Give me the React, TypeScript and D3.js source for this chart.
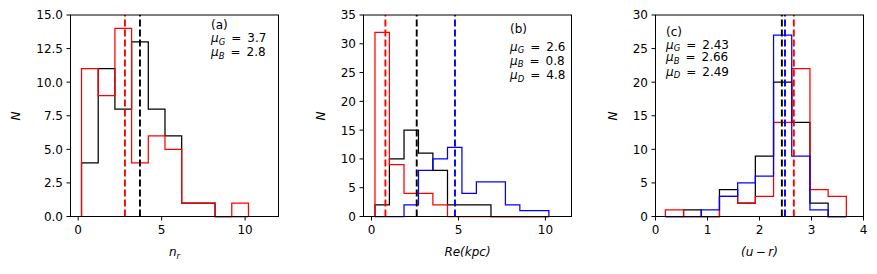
import { useEffect, useRef } from 'react';
import * as d3 from 'd3';

// --- Panel (a): Sersic index n_r ---
const edgesA = [0.2, 1.2, 2.2, 3.2, 4.2, 5.2, 6.2, 7.2, 8.2, 9.2, 10.2];
const countsA_G = [4, 11, 8, 13, 8, 6, 1, 1, 0, 0];
const countsA_B = [11, 9, 14, 4, 6, 5, 1, 1, 0, 1];
const yTicksA = [0, 2.5, 5, 7.5, 10, 12.5, 15];
const xTicksA = [0, 5, 10];

// --- Panel (b): effective radius ---
const edgesB = [0.2, 1.03, 1.87, 2.7, 3.53, 4.37, 5.2, 6.03, 6.87, 7.7, 8.53, 9.37, 10.2];
const countsB_G = [2, 10, 15, 11, 8, 2, 2, 2, 0, 0, 0, 0];
const countsB_B = [32, 9, 4, 4, 2, 0, 0, 0, 0, 0, 0, 0];
const countsB_D = [0, 0, 2, 8, 10, 12, 4, 6, 6, 2, 1, 1];
const yTicksB = [0, 5, 10, 15, 20, 25, 30, 35];
const xTicksB = [0, 5, 10];

// --- Panel (c): colour u-r ---
const edgesC = [0.19, 0.54, 0.88, 1.23, 1.58, 1.92, 2.27, 2.62, 2.97, 3.32, 3.67];
const countsC_G = [0, 1, 0, 4, 2, 9, 20, 14, 2, 0];
const countsC_B = [1, 0, 0, 3, 2, 3, 14, 22, 4, 3];
const countsC_D = [0, 0, 1, 3, 5, 6, 27, 9, 1, 0];
const yTicksC = [0, 5, 10, 15, 20, 25, 30];
const xTicksC = [0, 1, 2, 3, 4];

const FONT = 'DejaVu Sans';

type Hist = { counts: number[]; color: string };
type Mean = { value: number; color: string; label: string; text: string };

interface PanelSpec {
  left: number;
  xDomain: [number, number];
  yDomain: [number, number];
  xTicks: number[];
  yTicks: number[];
  yFmt: (d: number) => string;
  edges: number[];
  hists: Hist[];
  means: Mean[];
  tag: string;
  noteX: number;
  noteY: number[];
  xlabel: [string, string, boolean][]; // text, style, subscript
  ylabelX: number;
}

const panels: PanelSpec[] = [
  {
    left: 70.5,
    xDomain: [-0.46, 12],
    yDomain: [0, 15],
    xTicks: xTicksA,
    yTicks: yTicksA,
    yFmt: (d) => d.toFixed(1),
    edges: edgesA,
    hists: [
      { counts: countsA_G, color: '#000000' },
      { counts: countsA_B, color: '#ff0000' },
    ],
    means: [
      { value: 2.8, color: '#ff0000', label: 'B', text: '2.8' },
      { value: 3.7, color: '#000000', label: 'G', text: '3.7' },
    ],
    tag: '(a)',
    noteX: 211,
    noteY: [28.5, 42, 56],
    xlabel: [['n', 'italic', false], ['r', 'italic', true]],
    ylabelX: 16,
  },
  {
    left: 363.5,
    xDomain: [-0.46, 11.5],
    yDomain: [0, 35],
    xTicks: xTicksB,
    yTicks: yTicksB,
    yFmt: (d) => String(d),
    edges: edgesB,
    hists: [
      { counts: countsB_G, color: '#000000' },
      { counts: countsB_B, color: '#ff0000' },
      { counts: countsB_D, color: '#0000ff' },
    ],
    means: [
      { value: 0.8, color: '#ff0000', label: 'B', text: '0.8' },
      { value: 2.6, color: '#000000', label: 'G', text: '2.6' },
      { value: 4.8, color: '#0000ff', label: 'D', text: '4.8' },
    ],
    tag: '(b)',
    noteX: 510,
    noteY: [33, 50.5, 64.5, 79],
    xlabel: [['Re(kpc)', 'italic', false]],
    ylabelX: 321,
  },
  {
    left: 655.5,
    xDomain: [0, 4],
    yDomain: [0, 30],
    xTicks: xTicksC,
    yTicks: yTicksC,
    yFmt: (d) => String(d),
    edges: edgesC,
    hists: [
      { counts: countsC_G, color: '#000000' },
      { counts: countsC_B, color: '#ff0000' },
      { counts: countsC_D, color: '#0000ff' },
    ],
    means: [
      { value: 2.66, color: '#ff0000', label: 'B', text: '2.66' },
      { value: 2.43, color: '#000000', label: 'G', text: '2.43' },
      { value: 2.49, color: '#0000ff', label: 'D', text: '2.49' },
    ],
    tag: '(c)',
    noteX: 666,
    noteY: [36, 48.5, 61, 75.5],
    xlabel: [['(u', 'italic', false], ['\u2009\u2212\u2009', 'normal', false], ['r)', 'italic', false]],
    ylabelX: 613,
  },
];

const meanOrder = ['G', 'B', 'D'];

export default function App() {
  const svgRef = useRef<SVGSVGElement>(null);

  useEffect(() => {
    if (!svgRef.current) return;
    const svg = d3.select(svgRef.current);
    svg.selectAll('*').remove();

    const top = 15;
    const bottom = 216.5;
    const width = 208;

    panels.forEach((p) => {
      const x = d3.scaleLinear().domain(p.xDomain).range([p.left, p.left + width]);
      const y = d3.scaleLinear().domain(p.yDomain).range([bottom, top]);
      const g = svg.append('g');

      // step histograms
      p.hists.forEach((h) => {
        const pts: [number, number][] = [[p.edges[0], 0]];
        h.counts.forEach((c, i) => {
          pts.push([p.edges[i], c]);
          pts.push([p.edges[i + 1], c]);
        });
        pts.push([p.edges[p.edges.length - 1], 0]);
        const line = d3
          .line<[number, number]>()
          .x((d) => x(d[0]))
          .y((d) => y(d[1]));
        g.append('path')
          .datum(pts)
          .attr('d', line)
          .attr('fill', 'none')
          .attr('stroke', h.color)
          .attr('stroke-width', 1.25);
      });

      // mean lines
      p.means.forEach((m) => {
        g.append('line')
          .attr('x1', x(m.value))
          .attr('x2', x(m.value))
          .attr('y1', bottom)
          .attr('y2', top)
          .attr('stroke', m.color)
          .attr('stroke-width', 1.9)
          .attr('stroke-dasharray', '7,3');
      });

      // frame
      g.append('rect')
        .attr('x', p.left)
        .attr('y', top)
        .attr('width', width)
        .attr('height', bottom - top)
        .attr('fill', 'none')
        .attr('stroke', '#000')
        .attr('stroke-width', 1);

      // x ticks
      p.xTicks.forEach((t) => {
        g.append('line')
          .attr('x1', x(t))
          .attr('x2', x(t))
          .attr('y1', bottom)
          .attr('y2', bottom + 4)
          .attr('stroke', '#000')
          .attr('stroke-width', 1);
        g.append('text')
          .attr('x', x(t))
          .attr('y', bottom + 17)
          .attr('text-anchor', 'middle')
          .attr('font-family', FONT)
          .attr('font-size', 12)
          .text(String(t));
      });

      // y ticks
      p.yTicks.forEach((t) => {
        g.append('line')
          .attr('x1', p.left - 4)
          .attr('x2', p.left)
          .attr('y1', y(t))
          .attr('y2', y(t))
          .attr('stroke', '#000')
          .attr('stroke-width', 1);
        g.append('text')
          .attr('x', p.left - 7.5)
          .attr('y', y(t) + 4.4)
          .attr('text-anchor', 'end')
          .attr('font-family', FONT)
          .attr('font-size', 12)
          .text(p.yFmt(t));
      });

      // x label
      const xl = g
        .append('text')
        .attr('x', p.left + width / 2)
        .attr('y', 256)
        .attr('text-anchor', 'middle')
        .attr('font-family', FONT)
        .attr('font-size', 12);
      p.xlabel.forEach(([txt, style, sub]) => {
        const ts = xl.append('tspan').attr('font-style', style).text(txt);
        if (sub) ts.attr('font-size', 8.5).attr('dy', 3);
      });

      // y label
      g.append('text')
        .attr('transform', `translate(${p.ylabelX + 4},116) rotate(-90)`)
        .attr('text-anchor', 'middle')
        .attr('font-family', FONT)
        .attr('font-style', 'italic')
        .attr('font-size', 12)
        .text('N');

      // annotation
      g.append('text')
        .attr('x', p.noteX)
        .attr('y', p.noteY[0])
        .attr('font-family', FONT)
        .attr('font-size', 12)
        .text(p.tag);
      const sorted = [...p.means].sort(
        (a, b) => meanOrder.indexOf(a.label) - meanOrder.indexOf(b.label),
      );
      sorted.forEach((m, i) => {
        const t = g
          .append('text')
          .attr('x', p.noteX)
          .attr('y', p.noteY[i + 1])
          .attr('font-family', FONT)
          .attr('font-size', 12);
        t.append('tspan').attr('font-style', 'italic').text('\u03bc');
        t.append('tspan')
          .attr('font-style', 'italic')
          .attr('font-size', 8.5)
          .attr('dy', 2.5)
          .text(m.label);
        t.append('tspan').attr('dy', -2.5).text(`\u2002=\u2002${m.text}`);
      });
    });
  }, []);

  return (
    <svg
      ref={svgRef}
      width={877}
      height={274}
      style={{ position: 'absolute', left: 0, top: 0, background: '#fff' }}
    />
  );
}
